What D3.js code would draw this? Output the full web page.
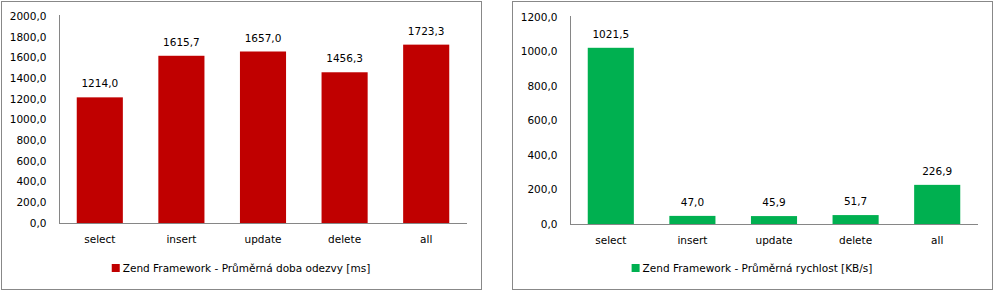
<!DOCTYPE html>
<meta charset="utf-8">
<title>Zend Framework</title>
<style>
  html, body { margin: 0; padding: 0; background: #fff; }
  svg { display: block; }
  text { font-family: 'DejaVu Sans', sans-serif; font-size: 10.5px; fill: #000; }
  .frame { fill: #fff; stroke: #888; stroke-width: 1; }
  .axis path { stroke: #868686; }
  .axis line { display: none; }
</style>
<svg id="chart" width="996" height="292"></svg>
<script src="https://cdn.jsdelivr.net/npm/d3@7"></script>
<script>
  'use strict'
  const categories = ['select', 'insert', 'update', 'delete', 'all']
  const responseTime = [1214.0, 1615.7, 1657.0, 1456.3, 1723.3]
  const speed = [1021.5, 47.0, 45.9, 51.7, 226.9]
  const responseTicks = [0, 200, 400, 600, 800, 1000, 1200, 1400, 1600, 1800, 2000]
  const speedTicks = [0, 200, 400, 600, 800, 1000, 1200]

  const fmt = v => d3.format('.1f')(v).replace('.', ',')
  const svg = d3.select('#chart')

  function drawPanel(opt) {
    const g = svg.append('g').attr('transform', `translate(${opt.left},${opt.top})`)
    g.append('rect').attr('class', 'frame')
      .attr('x', 0.5).attr('y', 0.5)
      .attr('width', opt.width).attr('height', opt.height)

    const x = d3.scaleBand().domain(categories)
      .range([opt.plotLeft, opt.plotLeft + 408]).paddingInner(0.435).paddingOuter(0.2175)
    const ticks = opt.ticks
    const y = d3.scaleLinear().domain([0, d3.max(ticks)]).range([opt.base, opt.plotTop])

    // bars
    g.selectAll('.bar').data(opt.values).enter().append('rect')
      .attr('x', (d, i) => x(categories[i]))
      .attr('width', x.bandwidth())
      .attr('y', d => y(d))
      .attr('height', d => y(0) - y(d))
      .attr('fill', opt.color)

    // value labels
    g.selectAll('.lbl').data(opt.values).enter().append('text')
      .attr('x', (d, i) => x(categories[i]) + x.bandwidth() / 2)
      .attr('y', d => y(d) - 10)
      .attr('text-anchor', 'middle')
      .text(fmt)

    // y axis
    const ya = g.append('g').attr('class', 'axis')
      .attr('transform', `translate(${opt.plotLeft + 0.5},0)`)
      .call(d3.axisLeft(y).tickValues(ticks).tickFormat(fmt).tickSize(0).tickPadding(13))
    ya.select('.domain').attr('d', `M0,${opt.plotTop - 1}V${opt.base + 0.5}`)
    ya.selectAll('text').attr('font-size', null).attr('font-family', null).attr('fill', '#000')

    // x axis
    const xa = g.append('g').attr('class', 'axis')
      .attr('transform', `translate(0,${opt.base + 0.5})`)
      .call(d3.axisBottom(x).tickSize(0).tickPadding(12))
    xa.select('.domain').attr('d', `M${opt.plotLeft},0H${opt.plotLeft + 408}`)
    xa.selectAll('text').attr('font-size', null).attr('font-family', null).attr('fill', '#000')

    // legend
    const lg = g.append('g')
    const t = lg.append('text').attr('x', 11).attr('y', opt.legendY + 4).text(opt.legend)
    const w = t.node().getComputedTextLength() + 11
    lg.append('rect').attr('x', 0).attr('y', opt.legendY - 4).attr('width', 8).attr('height', 8)
      .attr('fill', opt.color)
    lg.attr('transform', `translate(${(opt.width - w) / 2},0)`)
  }

  drawPanel({
    left: 1, top: 1, width: 480, height: 288,
    plotLeft: 58, plotTop: 15, base: 222,
    ticks: responseTicks, values: responseTime, color: '#C00000',
    legend: 'Zend Framework - Průměrná doba odezvy [ms]', legendY: 267
  })
  drawPanel({
    left: 512, top: 1, width: 480, height: 288,
    plotLeft: 58, plotTop: 16, base: 223,
    ticks: speedTicks, values: speed, color: '#00B050',
    legend: 'Zend Framework - Průměrná rychlost [KB/s]', legendY: 267
  })
</script>
